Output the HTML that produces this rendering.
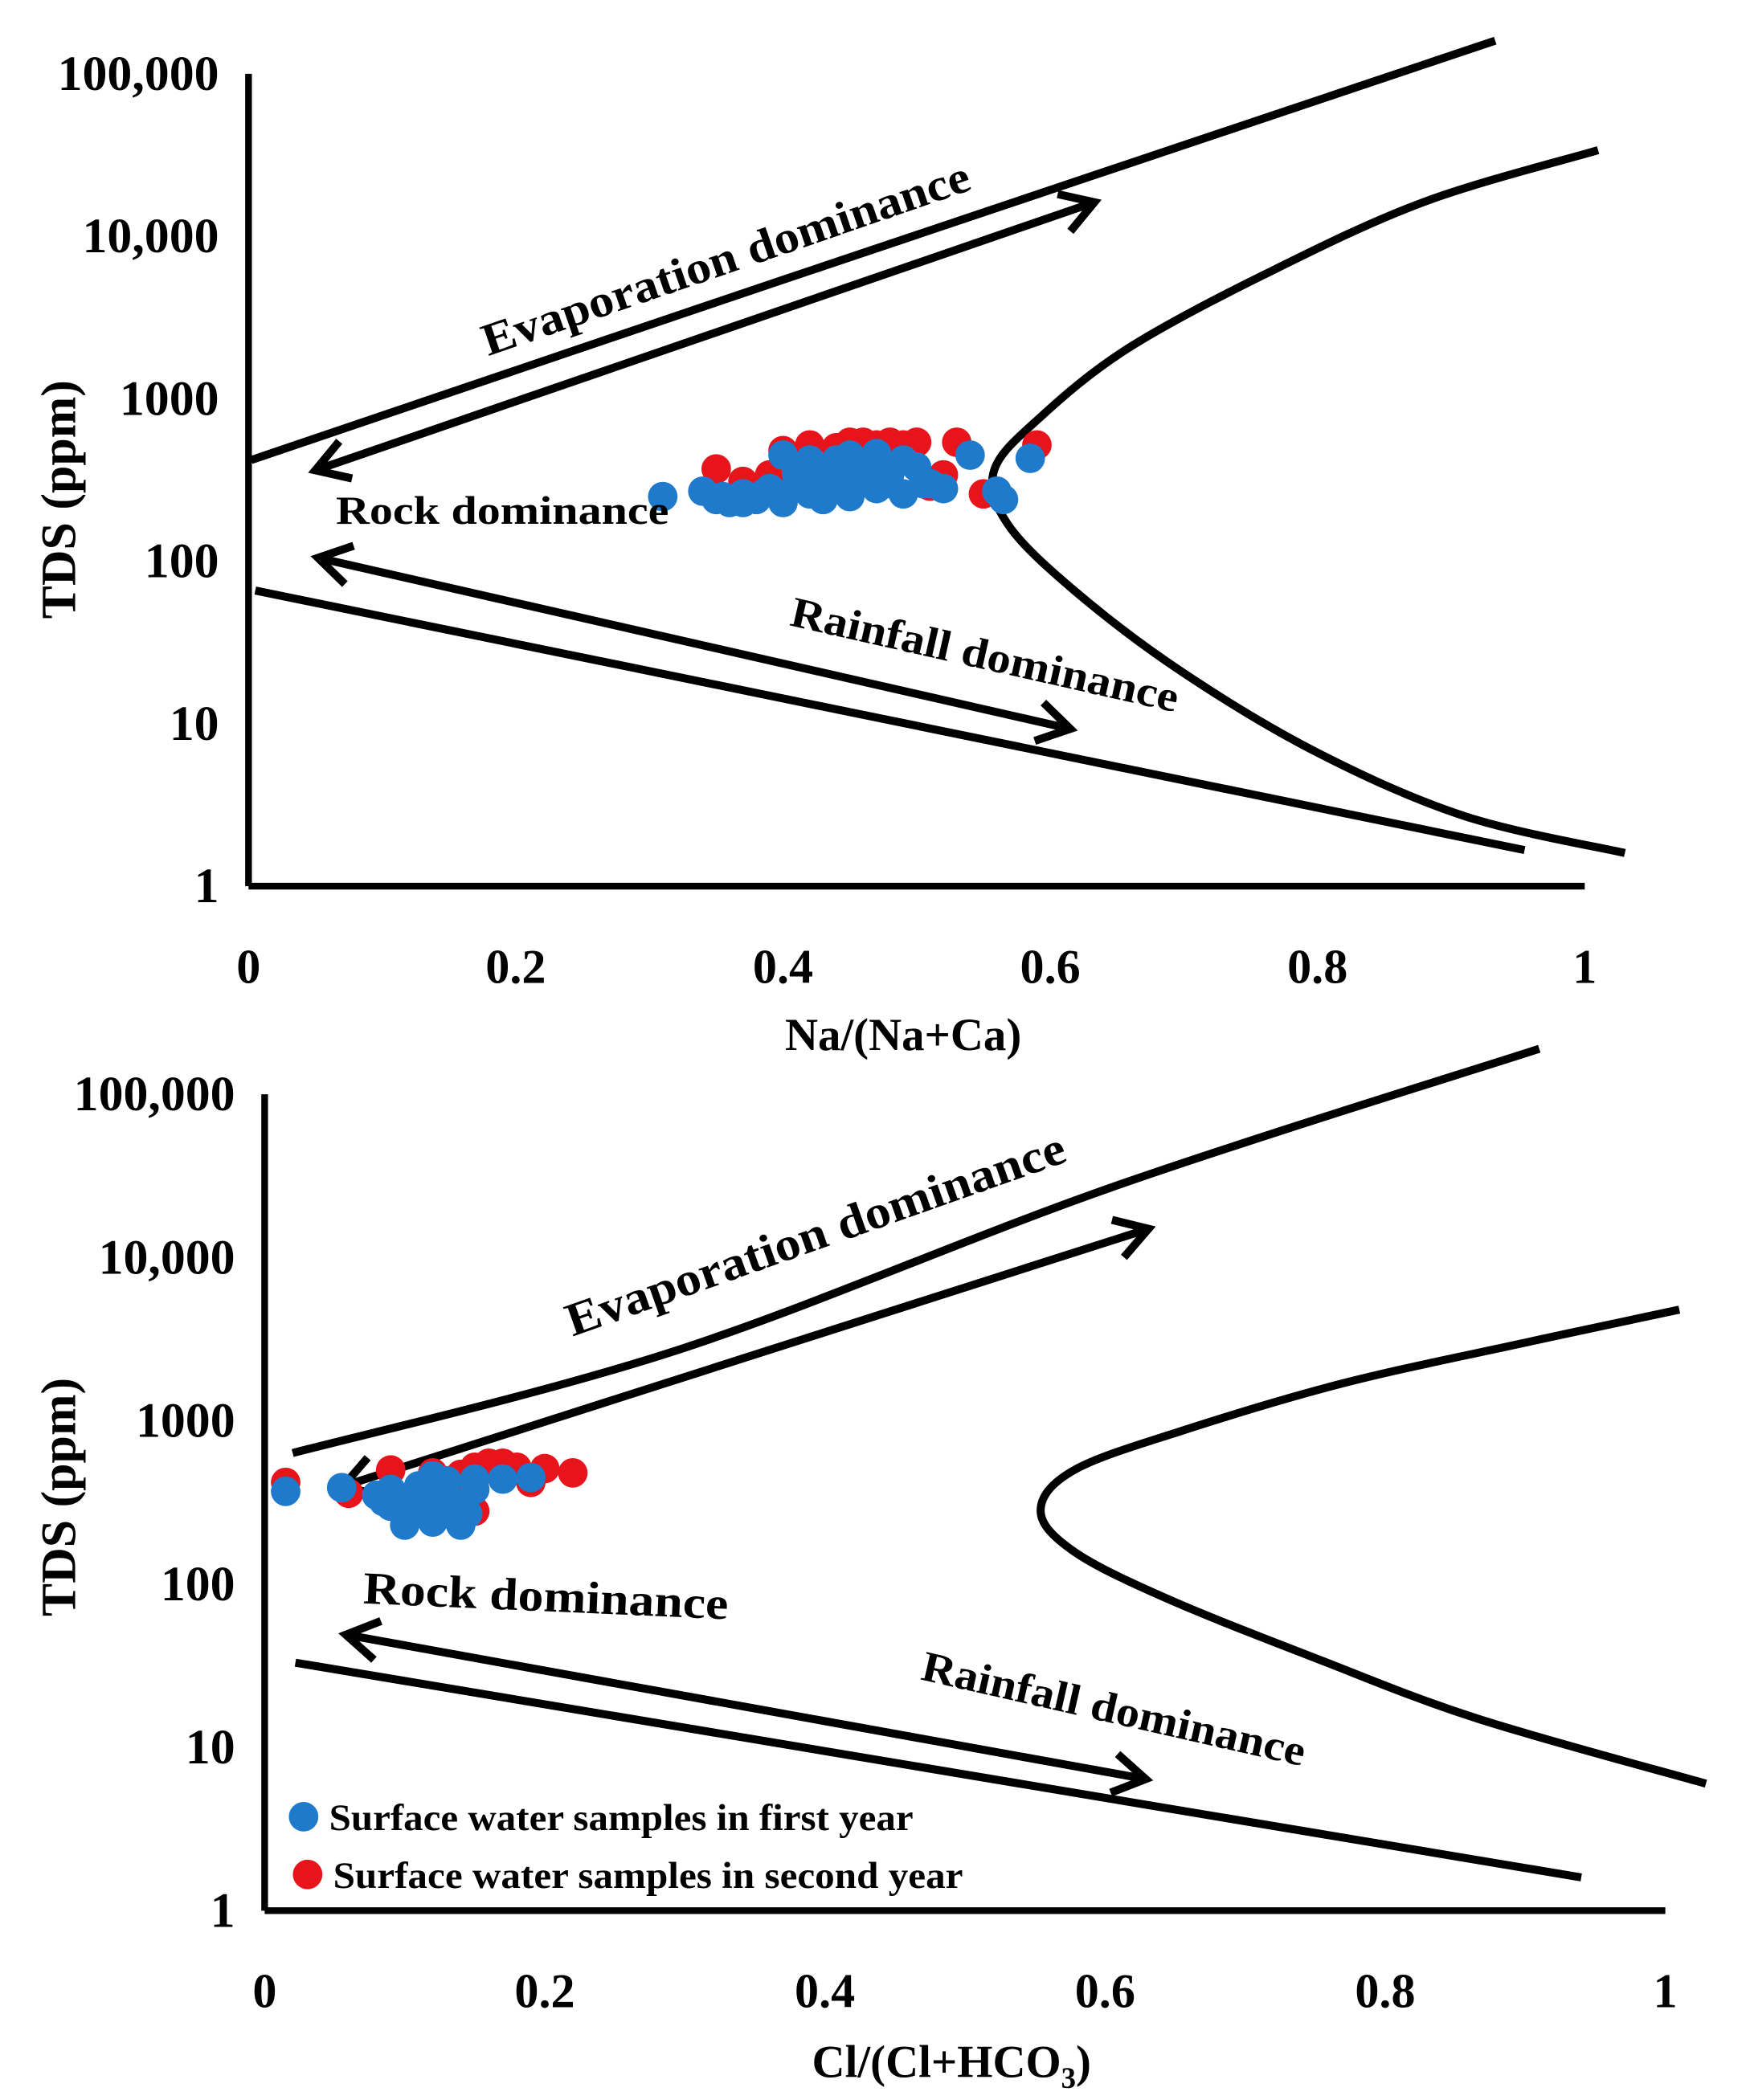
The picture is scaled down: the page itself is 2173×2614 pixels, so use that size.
<!DOCTYPE html>
<html><head><meta charset="utf-8"><style>
html,body{margin:0;padding:0;background:#fff;}
svg{display:block;}
text{font-family:"Liberation Serif",serif;font-weight:bold;fill:#000;}
</style></head><body>
<svg id="chart" width="2173" height="2614" viewBox="0 0 1300 1564" xmlns="http://www.w3.org/2000/svg">
<g id="top"></g>
<g id="bot"></g>
</svg>
<script>
const xTicks = ["0","0.2","0.4","0.6","0.8","1"];
const xTickVals = [0,0.2,0.4,0.6,0.8,1];
const yTicks = ["1","10","100","1000","10,000","100,000"];
const yTickVals = [1,10,100,1000,10000,100000];

// top chart data
const topEvapX = [0.002,0.4,0.933];
const topEvapY = [420,5400,160000];
const topRainX = [0.005,0.955];
const topRainY = [66,1.67];
const topBoundX = [1.010,0.879,0.759,0.658,0.593,0.558,0.568,0.618,0.698,0.799,0.910,1.030];
const topBoundY = [33900,16200,5750,2040,776,363,170,66,21,6.7,2.7,1.6];
const topEvapArrowX = [0.05,0.633];
const topEvapArrowY = [363,16200];
const topRainArrowX = [0.052,0.615];
const topRainArrowY = [105,9.3];
const topBlueX = [0.31,0.34,0.35,0.36,0.37,0.38,0.39,0.40,0.40,0.41,0.42,0.42,0.43,0.43,0.44,0.44,0.45,0.45,0.46,0.46,0.47,0.47,0.48,0.48,0.49,0.49,0.50,0.51,0.52,0.54,0.56,0.565,0.585,0.37,0.41,0.44,0.355,0.385,0.415,0.455,0.475,0.505];
const topBlueY = [250,270,240,230,260,240,280,230,450,300,260,420,350,240,380,300,450,250,330,400,280,460,350,300,420,260,380,300,280,450,270,240,430,230,350,420,250,260,320,360,330,300];
const topRedX = [0.35,0.37,0.39,0.40,0.42,0.44,0.45,0.46,0.47,0.48,0.49,0.50,0.51,0.52,0.53,0.55,0.59,0.43,0.47];
const topRedY = [370,310,340,480,520,500,540,540,520,540,520,540,290,340,540,260,520,330,380];

// bottom chart data
const botEvapX = [0.020,0.294,0.605,0.910];
const botEvapY = [635,2700,27000,190000];
const botRainX = [0.022,0.940];
const botRainY = [33,1.6];
const botBoundX = [1.010,0.895,0.770,0.655,0.578,0.554,0.578,0.645,0.751,0.866,1.029];
const botBoundY = [4800,2950,1700,870,500,282,158,81,35,15,6.0];
const botEvapArrowX = [0.056,0.631];
const botEvapArrowY = [398,15000];
const botRainArrowX = [0.058,0.629];
const botRainArrowY = [49,6.4];
const botBlueX = [0.015,0.055,0.08,0.09,0.10,0.10,0.11,0.11,0.12,0.12,0.13,0.13,0.14,0.14,0.15,0.15,0.09,0.12,0.19,0.17,0.10,0.13,0.085,0.105,0.125,0.145];
const botBlueY = [370,390,350,300,260,230,320,400,280,240,350,430,300,230,380,440,380,460,450,440,330,270,320,290,310,270];
const botRedX = [0.015,0.06,0.09,0.12,0.15,0.16,0.17,0.18,0.19,0.20,0.22,0.15,0.14];
const botRedY = [420,360,500,480,520,550,550,520,420,510,480,280,470];

const NS="http://www.w3.org/2000/svg";
function mk(parent,tag,attrs,txt){const e=document.createElementNS(NS,tag);for(const k in attrs)e.setAttribute(k,attrs[k]);if(txt!==undefined)e.textContent=txt;parent.appendChild(e);return e;}

function drawChart(g, cfg){
  const sx=v=>cfg.x0+v*(cfg.x1-cfg.x0);
  const sy=v=>cfg.yBase-cfg.dec*Math.log10(v);
  let a=mk(g,'line',{x1:cfg.axX,y1:cfg.yTop,x2:cfg.axX,y2:cfg.yBase,stroke:'#000','stroke-width':5});
  
  
  a=mk(g,'line',{x1:cfg.axX,y1:cfg.yBase,x2:cfg.x1,y2:cfg.yBase,stroke:'#000','stroke-width':5});
  
  
  yTicks.forEach((t,i)=>{const e=mk(g,'text',{x:cfg.axX-22,y:sy(yTickVals[i])+12,'text-anchor':'end','font-size':37},t);
    
    });
  xTicks.forEach((t,i)=>{const e=mk(g,'text',{x:sx(xTickVals[i]),y:cfg.xLabY,'text-anchor':'middle','font-size':36},t);
    
    });
  const yt=mk(g,'text',{x:0,y:0,'text-anchor':'middle','font-size':37,transform:`translate(56,${cfg.yTitleY}) rotate(-90)`},'TDS (ppm)');
  
  
  const xt=mk(g,'text',{x:sx(0.5)-10,y:cfg.xTitleY,'text-anchor':'middle','font-size':34});
  
  
  xt.innerHTML=cfg.xTitle;
  const path=(xs,ys)=>{let d='';xs.forEach((x,i)=>{d+=(i?'L':'M')+sx(x).toFixed(1)+' '+sy(ys[i]).toFixed(1);});return d;};
  const smooth=(xs,ys)=>{const p=xs.map((x,i)=>[sx(x),sy(ys[i])]);let d='M'+p[0][0]+' '+p[0][1];
    for(let i=0;i<p.length-1;i++){const p0=p[Math.max(0,i-1)],p1=p[i],p2=p[i+1],p3=p[Math.min(p.length-1,i+2)];
      d+=` C${p1[0]+(p2[0]-p0[0])/6} ${p1[1]+(p2[1]-p0[1])/6} ${p2[0]-(p3[0]-p1[0])/6} ${p2[1]-(p3[1]-p1[1])/6} ${p2[0]} ${p2[1]}`;}return d;};
  let l=mk(g,'path',{d:smooth(cfg.evX,cfg.evY),fill:'none',stroke:'#000','stroke-width':6});
  
  
  l=mk(g,'path',{d:path(cfg.rnX,cfg.rnY),fill:'none',stroke:'#000','stroke-width':6});
  
  
  l=mk(g,'path',{d:smooth(cfg.bdX,cfg.bdY),fill:'none',stroke:'#000','stroke-width':6});
  
  
  const arrow=(xs,ys,name)=>{const x1=sx(xs[0]),y1=sy(ys[0]),x2=sx(xs[1]),y2=sy(ys[1]);
    const ang=Math.atan2(y2-y1,x2-x1),h=28,w=0.55;
    let d=`M${x1} ${y1}L${x2} ${y2}`;
    d+=`M${x2-h*Math.cos(ang-w)} ${y2-h*Math.sin(ang-w)}L${x2} ${y2}L${x2-h*Math.cos(ang+w)} ${y2-h*Math.sin(ang+w)}`;
    d+=`M${x1+h*Math.cos(ang-w)} ${y1+h*Math.sin(ang-w)}L${x1} ${y1}L${x1+h*Math.cos(ang+w)} ${y1+h*Math.sin(ang+w)}`;
    const e=mk(g,'path',{d,fill:'none',stroke:'#000','stroke-width':6,'stroke-linejoin':'miter'});
    
    };
  arrow(cfg.eaX,cfg.eaY,'evaporation-arrow');
  arrow(cfg.raX,cfg.raY,'rainfall-arrow');
  cfg.redX.forEach((x,i)=>{const c=mk(g,'circle',{cx:sx(x),cy:sy(cfg.redY[i]),r:11,fill:'#e8141c'});
    
    });
  cfg.blueX.forEach((x,i)=>{const c=mk(g,'circle',{cx:sx(x),cy:sy(cfg.blueY[i]),r:11,fill:'#1f7acb'});
    
    });
  cfg.labels.forEach(L=>{const e=mk(g,'text',{x:0,y:0,'font-size':L.s,'text-anchor':L.a||'start',textLength:L.w,lengthAdjust:'spacingAndGlyphs',transform:`translate(${L.x},${L.y}) rotate(${L.r})`},L.t);
    
    });
}

drawChart(document.getElementById('top'),{x0:185,x1:1180,axX:185,yBase:660,yTop:55,dec:121,xLabY:732,xTitleY:782,yTitleY:372,
  xTitle:'Na/(Na+Ca)',
  evX:topEvapX,evY:topEvapY,rnX:topRainX,rnY:topRainY,bdX:topBoundX,bdY:topBoundY,
  eaX:topEvapArrowX,eaY:topEvapArrowY,raX:topRainArrowX,raY:topRainArrowY,
  blueX:topBlueX,blueY:topBlueY,redX:topRedX,redY:topRedY,
  labels:[{t:'Evaporation dominance',x:544,y:203,r:-19,s:34,a:'middle',w:382,n:'evaporation-label'},
          {t:'Rock dominance',x:250,y:390,r:0,s:30,w:248,n:'rock-label'},
          {t:'Rainfall dominance',x:731,y:498,r:12.7,s:32,a:'middle',w:295,n:'rainfall-label'}]});

drawChart(document.getElementById('bot'),{x0:197,x1:1240,axX:197,yBase:1423,yTop:815,dec:121.6,xLabY:1495,xTitleY:1547,yTitleY:1115,
  xTitle:'Cl/(Cl+HCO<tspan font-size="22" dy="8">3</tspan><tspan dy="-8">)</tspan>',
  evX:botEvapX,evY:botEvapY,rnX:botRainX,rnY:botRainY,bdX:botBoundX,bdY:botBoundY,
  eaX:botEvapArrowX,eaY:botEvapArrowY,raX:botRainArrowX,raY:botRainArrowY,
  blueX:botBlueX,blueY:botBlueY,redX:botRedX,redY:botRedY,
  labels:[{t:'Evaporation dominance',x:611,y:930,r:-19.5,s:35,a:'middle',w:392,n:'evaporation-label'},
          {t:'Rock dominance',x:270,y:1194,r:2.5,s:34,w:272,n:'rock-label'},
          {t:'Rainfall dominance',x:827,y:1283,r:12.8,s:32,a:'middle',w:292,n:'rainfall-label'}]});

const bot=document.getElementById('bot');
const legendLabels=['Surface water samples in first year','Surface water samples in second year'];
const legendColors=['#1f7acb','#e8141c'];
const legendYs=[1353,1396];
const legendW=[435,469];
legendLabels.forEach((t,i)=>{
  const g=mk(bot,'g',{});
  
  
  mk(g,'circle',{cx:226+i*3,cy:legendYs[i],r:11,fill:legendColors[i]});
  mk(g,'text',{x:245+i*3,y:legendYs[i]+10,'font-size':28,textLength:legendW[i],lengthAdjust:'spacingAndGlyphs'},t);
});
</script>
</body></html>
